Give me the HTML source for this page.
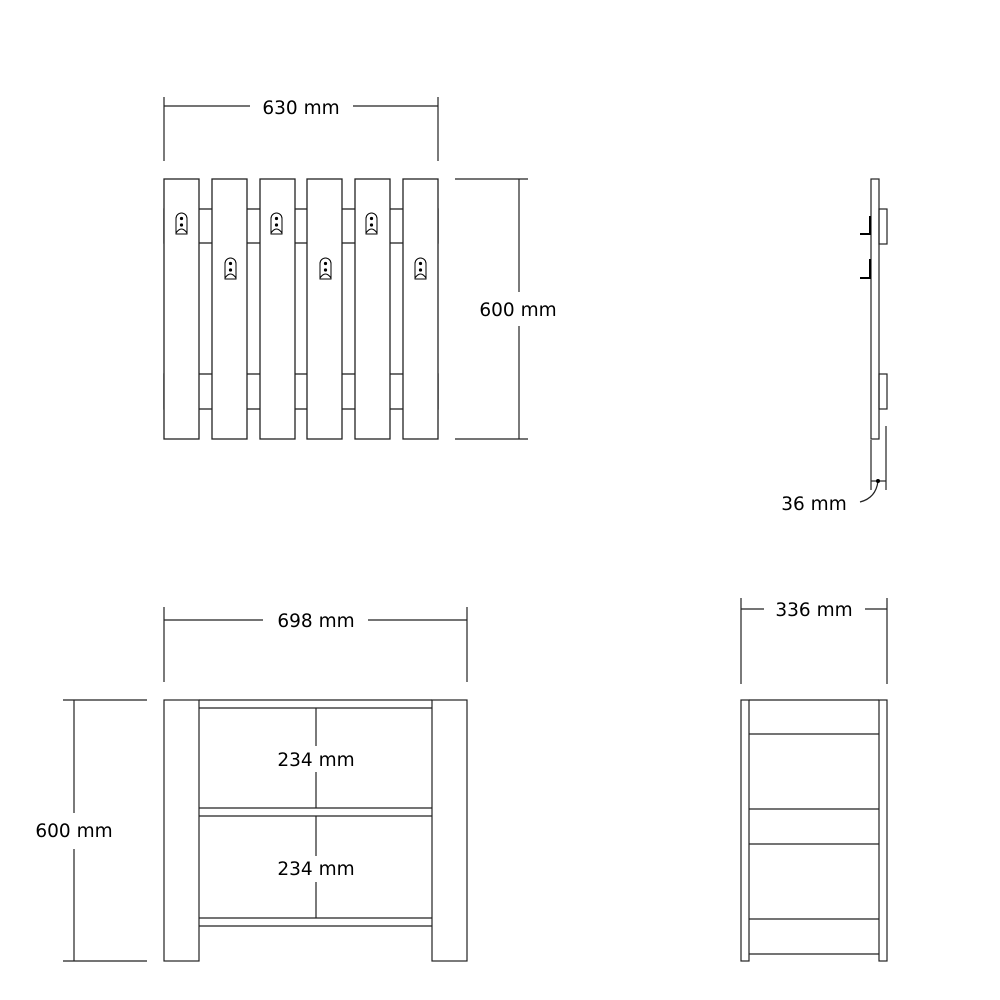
<!DOCTYPE html>
<html><head><meta charset="utf-8"><style>body{margin:0;background:#fff}svg{display:block}</style></head><body>
<svg width="1000" height="1000" viewBox="0 0 1000 1000" xmlns="http://www.w3.org/2000/svg" font-family="DejaVu Sans, Liberation Sans, sans-serif" font-size="18.5">
<defs>
<g id="hook" fill="none" stroke="#000" stroke-width="1">
<path d="M0,21 V5.5 A5.5,5.5 0 0 1 11,5.5 V21 Z"/>
<circle cx="5.5" cy="5.5" r="1.1" fill="#000"/>
<circle cx="5.5" cy="12" r="1.1" fill="#000"/>
<path d="M0,20 Q5.5,12 11,20"/>
</g>
</defs>
<g fill="none" stroke="#222" stroke-width="1.3">
<rect x="164" y="209" width="274" height="34"/>
<rect x="164" y="374" width="274" height="35"/>
</g>
<g fill="#fff" stroke="#222" stroke-width="1.3">
<rect x="164" y="179" width="35" height="260"/>
<rect x="212" y="179" width="35" height="260"/>
<rect x="260" y="179" width="35" height="260"/>
<rect x="307" y="179" width="35" height="260"/>
<rect x="355" y="179" width="35" height="260"/>
<rect x="403" y="179" width="35" height="260"/>
</g>
<use href="#hook" x="176" y="213"/>
<use href="#hook" x="271" y="213"/>
<use href="#hook" x="366" y="213"/>
<use href="#hook" x="225" y="258"/>
<use href="#hook" x="320" y="258"/>
<use href="#hook" x="415" y="258"/>
<g stroke="#222" stroke-width="1.2" fill="none">
<line x1="164" y1="97" x2="164" y2="161"/><line x1="438" y1="97" x2="438" y2="161"/>
<line x1="164" y1="106" x2="250" y2="106"/><line x1="353" y1="106" x2="438" y2="106"/>
<line x1="455" y1="179" x2="528" y2="179"/><line x1="455" y1="439" x2="528" y2="439"/>
<line x1="519" y1="179" x2="519" y2="292"/><line x1="519" y1="326" x2="519" y2="439"/>
<rect x="871" y="179" width="8" height="260" fill="#fff"/>
<rect x="879" y="209" width="8" height="35"/>
<rect x="879" y="374" width="8" height="35"/>
<line x1="871" y1="440" x2="871" y2="490"/><line x1="886" y1="426" x2="886" y2="490"/>
<line x1="871" y1="481" x2="886" y2="481"/>
<path d="M860,502 Q876,498 878,481"/>
<line x1="164" y1="607" x2="164" y2="682"/><line x1="467" y1="607" x2="467" y2="682"/>
<line x1="164" y1="620" x2="263" y2="620"/><line x1="368" y1="620" x2="467" y2="620"/>
<line x1="63" y1="700" x2="147" y2="700"/><line x1="63" y1="961" x2="147" y2="961"/>
<line x1="74" y1="700" x2="74" y2="813"/><line x1="74" y1="849" x2="74" y2="961"/>
<rect x="164" y="700" width="35" height="261"/>
<rect x="432" y="700" width="35" height="261"/>
<line x1="199" y1="700" x2="432" y2="700"/>
<line x1="199" y1="708" x2="432" y2="708"/>
<line x1="199" y1="808" x2="432" y2="808"/>
<line x1="199" y1="816" x2="432" y2="816"/>
<line x1="199" y1="918" x2="432" y2="918"/>
<line x1="199" y1="926" x2="432" y2="926"/>
<line x1="316" y1="708" x2="316" y2="746"/><line x1="316" y1="772" x2="316" y2="808"/>
<line x1="316" y1="816" x2="316" y2="856"/><line x1="316" y1="882" x2="316" y2="918"/>
<line x1="741" y1="598" x2="741" y2="684"/><line x1="887" y1="598" x2="887" y2="684"/>
<line x1="741" y1="609" x2="764" y2="609"/><line x1="865" y1="609" x2="887" y2="609"/>
<rect x="741" y="700" width="8" height="261"/>
<rect x="879" y="700" width="8" height="261"/>
<line x1="749" y1="700" x2="879" y2="700"/>
<line x1="749" y1="734" x2="879" y2="734"/>
<line x1="749" y1="809" x2="879" y2="809"/>
<line x1="749" y1="844" x2="879" y2="844"/>
<line x1="749" y1="919" x2="879" y2="919"/>
<line x1="749" y1="954" x2="879" y2="954"/>
</g>
<g stroke="#000" stroke-width="2" fill="none">
<path d="M860,234 H870 V216"/>
<path d="M860,278 H870 V259"/>
</g>
<circle cx="878" cy="481" r="2" fill="#000"/>
<g fill="#000" text-anchor="middle">
<text x="301" y="114">630 mm</text>
<text x="518" y="316">600 mm</text>
<text x="814" y="510">36 mm</text>
<text x="316" y="627">698 mm</text>
<text x="814" y="616">336 mm</text>
<text x="74" y="837">600 mm</text>
<text x="316" y="766">234 mm</text>
<text x="316" y="875">234 mm</text>
</g>
</svg>
</body></html>
